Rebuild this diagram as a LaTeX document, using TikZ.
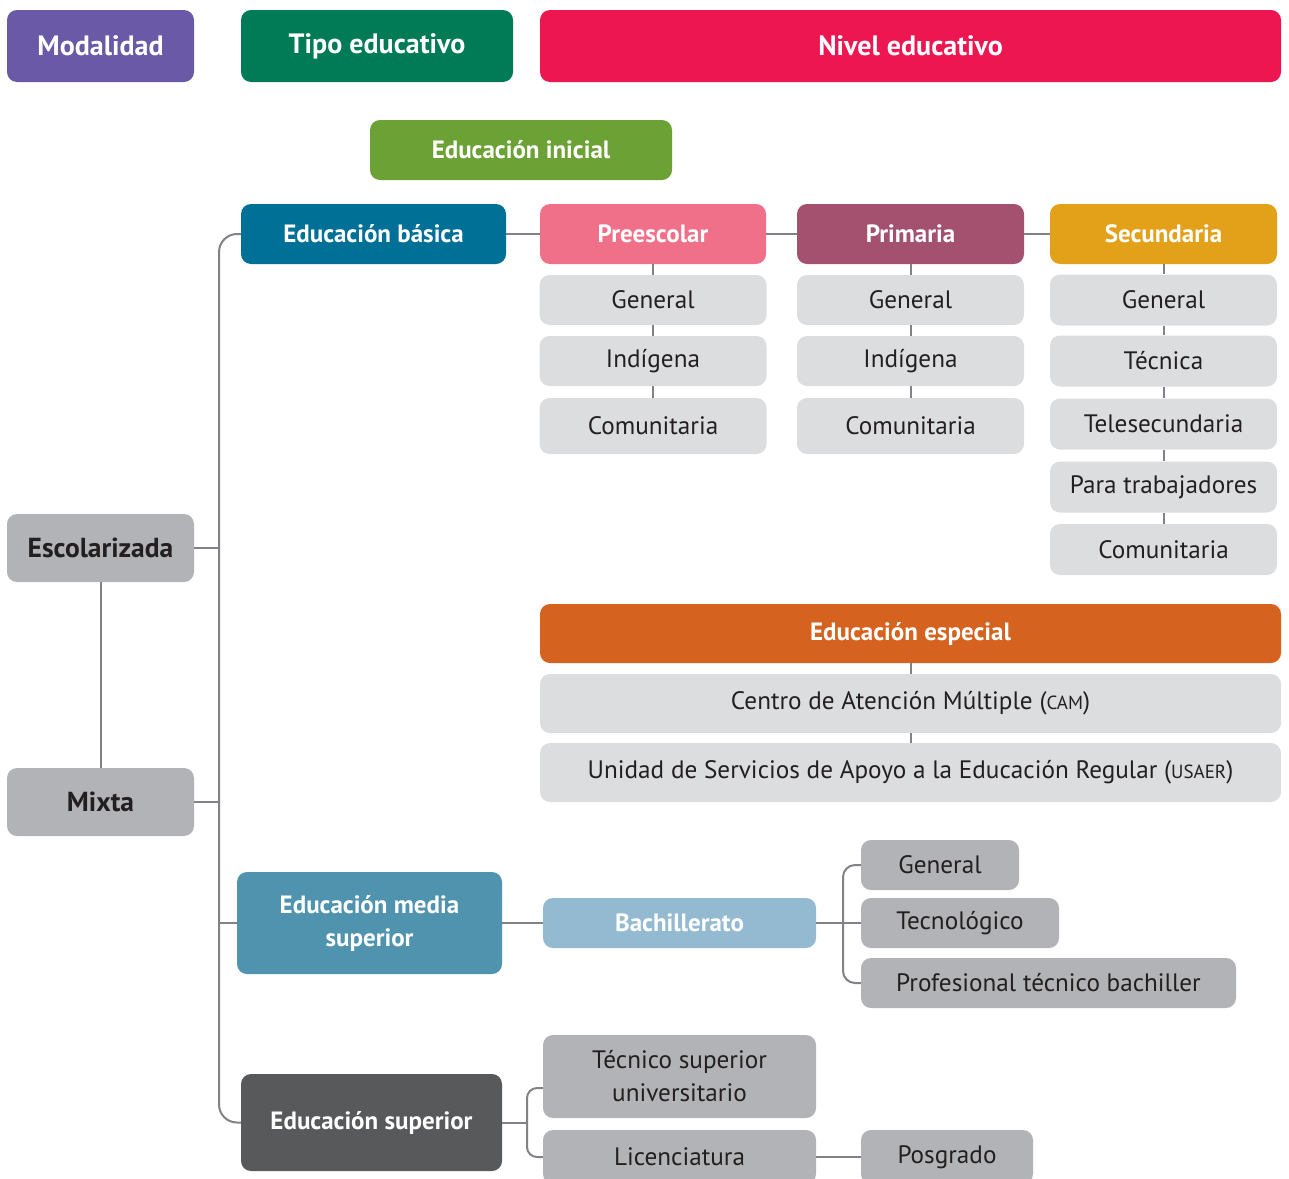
\documentclass[tikz,border=0pt]{standalone}
\usepackage{fontspec}
\setmainfont{PT Sans}
\usepackage{tikz}
\usetikzlibrary{positioning,calc}

\definecolor{cmod}{HTML}{6A59A7}
\definecolor{ctipo}{HTML}{007B55}
\definecolor{cnivel}{HTML}{EE1651}
\definecolor{cinicial}{HTML}{6CA135}
\definecolor{cbasica}{HTML}{007096}
\definecolor{cpre}{HTML}{F07089}
\definecolor{cpri}{HTML}{A3516F}
\definecolor{csec}{HTML}{E3A11A}
\definecolor{cesp}{HTML}{D5621F}
\definecolor{cmedia}{HTML}{5093AE}
\definecolor{cbach}{HTML}{94BAD2}
\definecolor{csup}{HTML}{58595B}
\definecolor{lgray}{HTML}{DCDDDF}
\definecolor{mgray}{HTML}{B2B3B6}
\definecolor{tdark}{HTML}{231F20}
\definecolor{lcon}{HTML}{808285}

\begin{document}
\begin{tikzpicture}[x=1pt,y=-1pt,
    box/.style={rounded corners=10pt, inner sep=0pt, align=center, text=white,
        font=\fontsize{25}{33}\selectfont\bfseries},
    head/.style={box, font=\fontsize{28}{33}\selectfont\bfseries, minimum height=72},
    sub/.style={box, fill=lgray, text=tdark, font=\fontsize{25.2}{33}\selectfont,
        minimum width=227},
    subm/.style={box, fill=mgray, text=tdark, font=\fontsize{25.2}{33}\selectfont},
    modbox/.style={box, fill=mgray, text=tdark, font=\fontsize{27.5}{33}\selectfont\bfseries,
        minimum width=187, minimum height=68},
    conn/.style={draw=lcon, line width=2pt}]

    \useasboundingbox (0,0) rectangle (1289,1178);
    \clip (0,0) rectangle (1289,1178);

    % Column headers
    \node[head, fill=cmod, minimum width=187] (mod) at (100.5,46) {Modalidad};
    \node[head, fill=ctipo, minimum width=272] (tipo) at (377,46) {Tipo educativo};
    \node[head, fill=cnivel, minimum width=741] (nivel) at (910.5,46) {Nivel educativo};

    % Modalidades
    \node[modbox] (esc) at (100.5,548) {Escolarizada};
    \node[modbox] (mix) at (100.5,802) {Mixta};

    % Tipos educativos
    \node[box, fill=cinicial, minimum width=302, minimum height=60] (inicial) at (521,150) {Educación inicial};
    \node[box, fill=cbasica, minimum width=265, minimum height=60] (basica) at (373.5,234) {Educación básica};
    \node[box, fill=cmedia, minimum width=265, minimum height=102] (media) at (369.5,923) {Educación media\\superior};
    \node[box, fill=csup, minimum width=261, minimum height=97] (sup) at (371.5,1122.5) {Educación superior};

    % Niveles de basica
    \node[box, fill=cpre, minimum width=226, minimum height=60] (pre) at (653,234) {Preescolar};
    \node[box, fill=cpri, minimum width=227, minimum height=60] (pri) at (910.5,234) {Primaria};
    \node[box, fill=csec, minimum width=227, minimum height=60] (sec) at (1163.5,234) {Secundaria};

    \foreach \name/\txt/\y/\h in {preA/General/300/50, preB/Indígena/361/50, preC/Comunitaria/426/56}
        \node[sub, minimum height=\h] (\name) at (653,\y) {\txt};
    \foreach \name/\txt/\y/\h in {priA/General/300/50, priB/Indígena/361/50, priC/Comunitaria/426/56}
        \node[sub, minimum height=\h] (\name) at (910.5,\y) {\txt};
    \foreach \name/\txt/\y in {secA/General/300, secB/Técnica/361, secC/Telesecundaria/424,
        secD/Para trabajadores/487, secE/Comunitaria/549.5}
        \node[sub, minimum height=51] (\name) at (1163.5,\y) {\txt};

    % Educacion especial
    \node[box, fill=cesp, minimum width=741, minimum height=59] (esp) at (910.5,633.5) {Educación especial};
    \node[sub, minimum width=741, minimum height=59] (cam) at (910.5,703.5)
        {Centro de Atención Múltiple ({\fontsize{19}{20}\selectfont CAM})};
    \node[sub, minimum width=741, minimum height=59] (usaer) at (910.5,772.5)
        {Unidad de Servicios de Apoyo a la Educación Regular ({\fontsize{19}{20}\selectfont USAER})};

    % Media superior
    \node[box, fill=cbach, minimum width=273, minimum height=50] (bach) at (679.5,923) {Bachillerato};
    \node[subm, minimum width=158, minimum height=50] (bgen) at (940,865) {General};
    \node[subm, minimum width=198, minimum height=50] (btec) at (960,923) {Tecnológico};
    \node[subm, minimum width=375, minimum height=50] (bprof) at (1048.5,983) {Profesional técnico bachiller};

    % Superior
    \node[subm, minimum width=273, minimum height=83] (tsu) at (679.5,1076.5) {Técnico superior\\universitario};
    \node[subm, minimum width=273, minimum height=54] (lic) at (679.5,1157) {Licenciatura};
    \node[subm, minimum width=172, minimum height=54] (pos) at (947,1157) {Posgrado};

    % Connectors
    \coordinate (spine) at (219,0); % main vertical line
    \coordinate (bkt) at (843,0);   % bracket of bachillerato
    \coordinate (bkt2) at (527,0);  % bracket of superior
    \coordinate (tsuin) at ($(tsu.west)+(0,11.5)$);

    \draw[conn] (esc.south) -- (mix.north);
    \draw[conn, rounded corners=18pt] (basica.west) -| (spine |- sup.west) -- (sup.west);
    \draw[conn] (esc.east) -- (esc.east -| spine);
    \draw[conn] (mix.east) -- (mix.east -| spine);
    \draw[conn] (media.west) -- (media.west -| spine);

    \draw[conn] (basica.east) -- (pre.west);
    \draw[conn] (pre.east) -- (pri.west);
    \draw[conn] (pri.east) -- (sec.west);
    \foreach \c in {pre,pri}{
        \draw[conn] (\c.south) -- (\c A.north);
        \draw[conn] (\c A.south) -- (\c B.north);
        \draw[conn] (\c B.south) -- (\c C.north);
    }
    \draw[conn] (sec.south) -- (secA.north);
    \foreach \a/\b in {secA/secB, secB/secC, secC/secD, secD/secE}
        \draw[conn] (\a.south) -- (\b.north);

    \draw[conn] (esp.south) -- (cam.north);
    \draw[conn] (cam.south) -- (usaer.north);

    \draw[conn] (media.east) -- (bach.west);
    \draw[conn] (bach.east) -- (btec.west);
    \draw[conn, rounded corners=12pt] (bgen.west) -| (bkt |- bprof.west) -- (bprof.west);

    \draw[conn] (sup.east) -- (sup.east -| bkt2);
    \draw[conn, rounded corners=10pt] (tsuin) -| (bkt2 |- lic.west) -- (lic.west);
    \draw[conn] (lic.east) -- (pos.west);
\end{tikzpicture}
\end{document}
